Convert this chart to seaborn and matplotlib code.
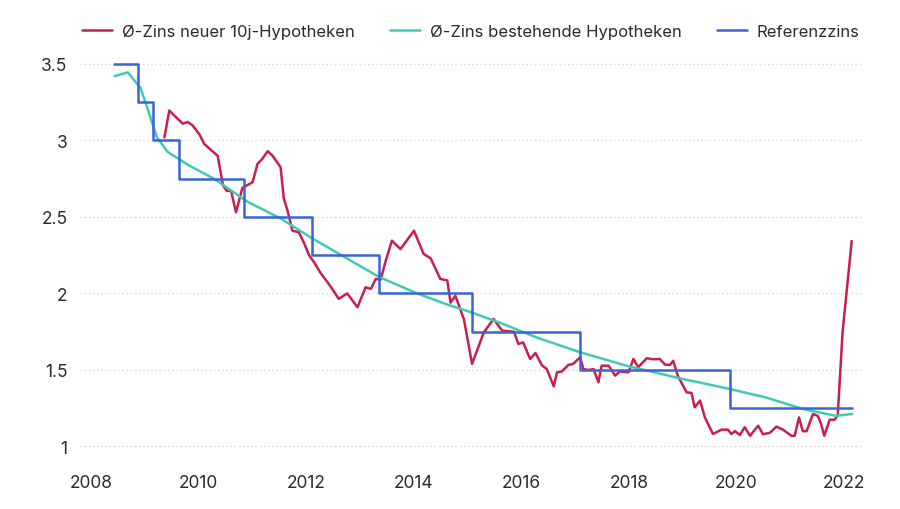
import matplotlib
matplotlib.use("Agg")
import matplotlib.pyplot as plt
import seaborn as sns
import pandas as pd
from matplotlib.ticker import FuncFormatter

# ---------------- data ----------------
red_x = [2009.36, 2009.45, 2009.58, 2009.70, 2009.79, 2009.88, 2010.01, 2010.10, 2010.25, 2010.35,
         2010.45, 2010.52, 2010.60, 2010.69, 2010.81, 2011.00, 2011.09, 2011.18, 2011.28, 2011.37,
         2011.52, 2011.58, 2011.65, 2011.74, 2011.86, 2011.95, 2012.05, 2012.15, 2012.27, 2012.40,
         2012.48, 2012.60, 2012.76, 2012.95, 2013.10, 2013.20, 2013.29, 2013.38, 2013.48, 2013.59,
         2013.75, 2014.00, 2014.18, 2014.31, 2014.49, 2014.62, 2014.68, 2014.77, 2014.93, 2015.08,
         2015.30, 2015.48, 2015.64, 2015.86, 2015.94, 2016.03, 2016.16, 2016.26, 2016.38, 2016.47,
         2016.60, 2016.66, 2016.75, 2016.87, 2016.96, 2017.09, 2017.15, 2017.25, 2017.34, 2017.43,
         2017.49, 2017.62, 2017.74, 2017.83, 2017.99, 2018.08, 2018.17, 2018.33, 2018.45, 2018.57,
         2018.67, 2018.76, 2018.82, 2018.91, 2019.07, 2019.16, 2019.22, 2019.32, 2019.41, 2019.56,
         2019.72, 2019.84, 2019.90, 2019.97, 2020.06, 2020.15, 2020.25, 2020.40, 2020.49, 2020.62,
         2020.74, 2020.86, 2021.02, 2021.08, 2021.16, 2021.23, 2021.30, 2021.42, 2021.51, 2021.57,
         2021.63, 2021.73, 2021.82, 2021.88, 2021.97, 2022.14]
red_y = [3.02, 3.195, 3.15, 3.11, 3.12, 3.10, 3.04, 2.977, 2.93, 2.90,
         2.705, 2.67, 2.67, 2.53, 2.69, 2.727, 2.846, 2.88, 2.93, 2.90,
         2.825, 2.62, 2.54, 2.41, 2.40, 2.335, 2.25, 2.20, 2.13, 2.07,
         2.03, 1.965, 2.00, 1.91, 2.04, 2.03, 2.095, 2.09, 2.22, 2.345,
         2.29, 2.41, 2.258, 2.23, 2.095, 2.085, 1.94, 1.985, 1.83, 1.54,
         1.746, 1.833, 1.757, 1.75, 1.67, 1.68, 1.572, 1.61, 1.53, 1.506,
         1.393, 1.485, 1.49, 1.533, 1.54, 1.583, 1.506, 1.50, 1.506, 1.42,
         1.528, 1.528, 1.463, 1.49, 1.485, 1.572, 1.518, 1.577, 1.57, 1.572,
         1.535, 1.533, 1.56, 1.459, 1.354, 1.35, 1.256, 1.30, 1.19, 1.082,
         1.11, 1.11, 1.082, 1.10, 1.075, 1.126, 1.07, 1.136, 1.08, 1.09,
         1.13, 1.11, 1.07, 1.07, 1.19, 1.10, 1.10, 1.212, 1.20, 1.147,
         1.07, 1.175, 1.175, 1.203, 1.746, 2.343]

teal_x = [2008.43, 2008.68, 2008.92, 2009.10, 2009.22, 2009.42, 2009.80, 2010.28, 2010.90, 2011.52,
          2012.11, 2012.70, 2013.35, 2014.06, 2014.60, 2015.08, 2015.61, 2016.30, 2017.09, 2017.98,
          2018.95, 2019.87, 2020.55, 2021.23, 2021.85, 2022.15]
teal_y = [3.42, 3.445, 3.34, 3.15, 3.02, 2.925, 2.84, 2.75, 2.60, 2.49,
          2.36, 2.24, 2.108, 2.00, 1.93, 1.875, 1.807, 1.71, 1.616, 1.525,
          1.445, 1.376, 1.32, 1.245, 1.20, 1.213]

blue_x = [2008.43, 2008.87, 2009.14, 2009.63, 2010.84, 2012.11, 2013.35, 2015.08, 2017.09, 2019.87, 2022.15]
blue_y = [3.50, 3.25, 3.00, 2.75, 2.50, 2.25, 2.00, 1.75, 1.50, 1.25, 1.25]

labels = ["Ø-Zins neuer 10j-Hypotheken", "Ø-Zins bestehende Hypotheken", "Referenzzins"]
x_ticks = [2008, 2010, 2012, 2014, 2016, 2018, 2020, 2022]
y_ticks = [1, 1.5, 2, 2.5, 3, 3.5]

# ---------------- style ----------------
sns.set_theme(style="white")
plt.rcParams["font.family"] = ["Inter", "DejaVu Sans"]
TXT = "#2b2b2b"
RED, TEAL, BLUE = "#c8204a", "#3fcab8", "#3b63d9"

fig = plt.figure(figsize=(9, 5.1), dpi=100)
ax = fig.add_axes([80 / 900, 1 - 458.2 / 510, 783 / 900, 404 / 510])

df_red = pd.DataFrame({"x": red_x, "y": red_y})
df_teal = pd.DataFrame({"x": teal_x, "y": teal_y})
df_blue = pd.DataFrame({"x": blue_x, "y": blue_y})

sns.lineplot(data=df_red, x="x", y="y", ax=ax, color=RED, lw=1.8, label=labels[0], sort=False)
sns.lineplot(data=df_teal, x="x", y="y", ax=ax, color=TEAL, lw=1.8, label=labels[1], sort=False)
sns.lineplot(data=df_blue, x="x", y="y", ax=ax, color=BLUE, lw=1.8, label=labels[2],
             sort=False, drawstyle="steps-post")

ax.set_xlim(2007.79, 2022.35)
ax.set_ylim(0.93, 3.57)
ax.set_xticks(x_ticks)
ax.set_yticks(y_ticks)
ax.yaxis.set_major_formatter(FuncFormatter(lambda v, p: f"{v:g}"))
ax.set_xlabel("")
ax.set_ylabel("")
for s in ax.spines.values():
    s.set_visible(False)
ax.grid(axis="y", color="#dddddd", linestyle=(0, (1.2, 1.8)), lw=1.0)
ax.grid(axis="x", visible=False)
ax.tick_params(axis="both", length=0, labelsize=12.5, labelcolor=TXT)
ax.tick_params(axis="y", pad=9)
ax.tick_params(axis="x", pad=12)

ax.legend_.remove()
h, l = ax.get_legend_handles_labels()
leg = fig.legend(h, l, loc="center left", bbox_to_anchor=(82 / 900, 1 - 32 / 510), ncol=3,
                 frameon=False, fontsize=12, handlelength=1.8, handletextpad=0.6,
                 columnspacing=2.1, borderpad=0, borderaxespad=0)
for t in leg.get_texts():
    t.set_color(TXT)

fig.savefig("out.png", dpi=100)
